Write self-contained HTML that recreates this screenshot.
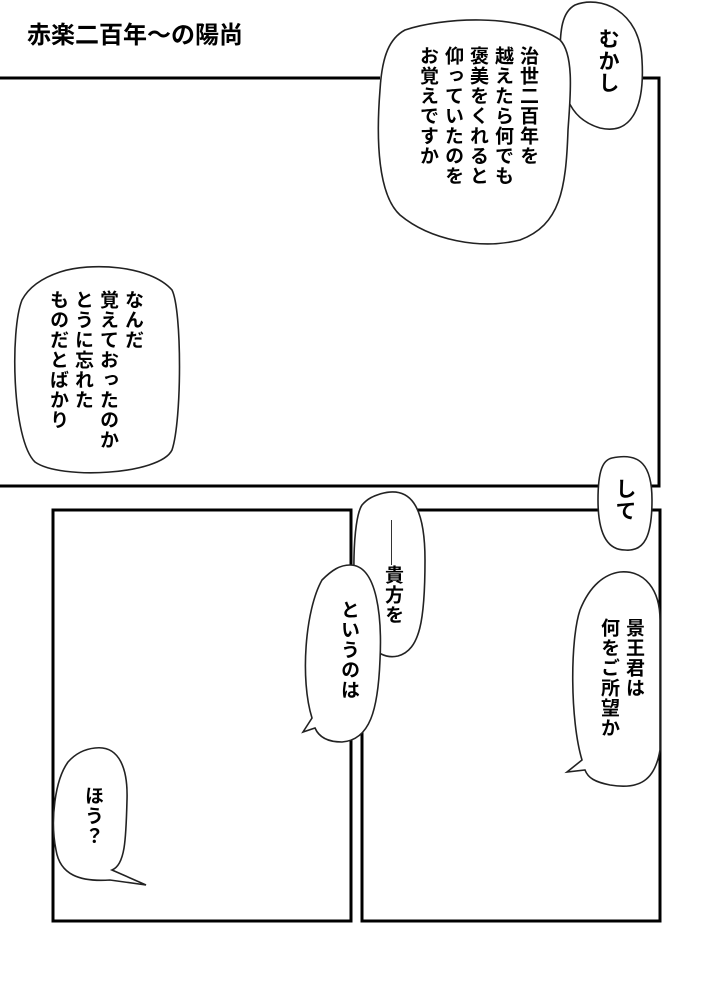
<!DOCTYPE html>
<html><head><meta charset="utf-8"><style>
body{margin:0;width:714px;height:1000px;background:#fff;position:relative;overflow:hidden;font-family:"Liberation Sans","Noto Sans CJK JP",sans-serif;}
svg{position:absolute;left:0;top:0}
.v{position:absolute;writing-mode:vertical-rl;font-size:19px;line-height:25px;letter-spacing:1px;color:#000;font-weight:bold;white-space:pre;}
.t{position:absolute;left:27px;top:15px;font-size:24px;color:#000;font-weight:bold;}
</style></head><body>
<svg width="714" height="1000">
<g stroke="#000" stroke-width="3" fill="none">
<polyline points="0,78 380,78"/>
<polyline points="640,78 659,78 659,486 0,486"/>
<rect x="53" y="510" width="298" height="411"/>
<rect x="362" y="510" width="298" height="411"/>
</g>
<g stroke="#222" stroke-width="1.6" fill="#fff">
<path d="M575,5 C600,-5 640,10 642,60 C645,110 630,135 600,128 C580,122 572,110 568,100 L560,55 C560,30 562,12 575,5Z"/>
<path d="M405,30 C440,18 520,12 560,40 C575,55 570,100 568,130 C566,190 560,225 520,240 C480,250 430,240 400,215 C378,195 376,140 380,90 C382,55 390,38 405,30Z"/>
<path d="M60,272 C90,262 150,265 172,290 C182,310 182,420 172,450 C160,475 60,480 35,462 C12,440 10,330 22,300 C30,285 45,277 60,272Z"/>
<path d="M612,458 C640,452 652,465 652,500 C652,535 645,552 625,550 C605,550 598,530 598,500 C598,470 603,460 612,458Z"/>
<path d="M380,494 C410,485 425,505 425,560 C425,620 420,650 398,656 C380,660 365,645 358,620 C352,590 352,520 362,505 C368,498 374,496 380,494Z"/>
<path d="M350,565 C378,565 382,620 380,660 C378,710 370,740 342,742 C325,742 318,735 315,728 L303,732 L312,718 C300,680 305,610 322,580 C332,570 340,565 350,565Z"/>
<path d="M620,572 C645,570 660,590 660,620 L660,750 C655,780 640,790 610,785 C595,782 588,778 585,770 L567,772 L582,760 C570,720 570,640 580,610 C590,585 605,574 620,572Z"/>
<path d="M95,748 C120,745 128,770 127,800 C126,840 125,865 112,870 L146,885 L110,880 C80,882 60,875 56,850 C50,820 55,780 68,762 C76,753 85,749 95,748Z"/>
</g>
</svg>
<div class="t">赤楽二百年～の陽尚</div>
<div class="v" style="left:595px;top:28px;font-size:21px;">むかし</div>
<div class="v" style="left:415px;top:46px;">治世二百年を
越えたら何でも
褒美をくれると
仰っていたのを
お覚えですか</div>
<div class="v" style="left:45px;top:290px;">なんだ
覚えておったのか
とうに忘れた
ものだとばかり</div>
<div class="v" style="left:612px;top:478px;font-size:21px;">して</div>
<div style="position:absolute;left:391px;top:520px;width:1px;height:45px;background:#333"></div>
<div class="v" style="left:380px;top:565px;">貴方を</div>
<div class="v" style="left:336px;top:600px;">というのは</div>
<div class="v" style="left:596px;top:618px;">景王君は
何をご所望か</div>
<div class="v" style="left:80px;top:786px;">ほう？</div>
</body></html>
